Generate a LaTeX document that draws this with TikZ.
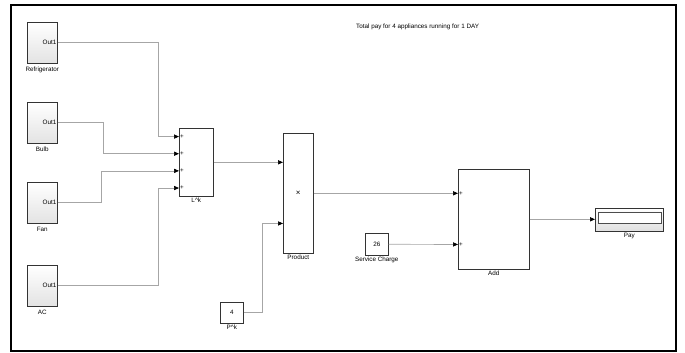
\documentclass[tikz,border=0pt]{standalone}
\usepackage{fontspec}
\setmainfont{Liberation Sans}
\usetikzlibrary{positioning,calc,arrows.meta,shadows}

\tikzset{
  lbl/.style={font=\fontsize{6.3}{7}\selectfont, inner sep=1pt},
  blk/.style={draw=black!80, fill=white, line width=0.6pt, inner sep=0pt, anchor=north west,
    drop shadow={shadow xshift=1pt, shadow yshift=-1pt, opacity=0.35}},
  subsys/.style={blk, top color=white, bottom color=gray!22, minimum width=30pt, minimum height=41pt},
  wire/.style={draw=gray!70, line width=0.7pt, -{Triangle[length=5pt, width=4.2pt, color=black]}},
  sgn/.style={lbl, anchor=west, inner sep=0.8pt},
}

\begin{document}
\begin{tikzpicture}[x=1pt, y=-1pt]
  \useasboundingbox (0,0) rectangle (685,353);

  % Marco
  \draw[line width=1.8pt] (11,5) rectangle (676,351);

  % Titulo
  \node[lbl, anchor=west] (title) at (355,27) {Total pay for 4 appliances running for 1 DAY};

  % Subsistemas
  \node[subsys, label={[lbl, anchor=east]east:Out1}, label={[lbl, label distance=2pt]below:Refrigerator}] (fridge) at (27,22) {};
  \node[subsys, label={[lbl, anchor=east]east:Out1}, label={[lbl, label distance=2pt]below:Bulb}] (bulb) at (27,102) {};
  \node[subsys, label={[lbl, anchor=east]east:Out1}, label={[lbl, label distance=2pt]below:Fan}] (fan) at (27,182) {};
  \node[subsys, label={[lbl, anchor=east]east:Out1}, label={[lbl, label distance=2pt]below:AC}] (ac) at (27,265) {};

  % Suma L^k
  \node[blk, minimum width=34pt, minimum height=68pt, label={[lbl]below:L\textasciicircum k}] (lk) at (179,128) {};
  \foreach \i in {1,...,4} {
    \coordinate (lk\i) at ($(lk.north west)!{(2*\i-1)/8}!(lk.south west)$);
    \node[sgn] (lksgn\i) at (lk\i) {+};
  }

  % Producto
  \node[blk, minimum width=30pt, minimum height=120pt, label={[lbl]below:Product}] (prod) at (283,133) {};
  \node[font=\fontsize{8}{9}\selectfont, inner sep=0pt] (prodsgn) at (prod.center) {×};
  \coordinate (prod2) at ($(prod.north west)!0.75!(prod.south west)$);

  % Constantes
  \node[blk, minimum width=23pt, minimum height=21pt, label={[lbl]below:P\textasciicircum k}, font=\fontsize{6.3}{7}\selectfont] (kp) at (220,302) {4};
  \node[blk, minimum width=23pt, minimum height=22pt, label={[lbl]below:Service Charge}, font=\fontsize{6.3}{7}\selectfont] (svc) at (365,233) {26};

  % Suma final
  \node[blk, minimum width=71pt, minimum height=100pt, label={[lbl]below:Add}] (add) at (458,169) {};
  \coordinate (add1) at ($(add.north west)!0.25!(add.south west)$);
  \coordinate (add2) at ($(add.north west)!0.75!(add.south west)$);
  \node[sgn] (addsgn1) at (add1) {+};
  \node[sgn] (addsgn2) at (add2) {+};

  % Display
  \node[blk, top color=white, bottom color=gray!25, minimum width=68pt, minimum height=23pt, label={[lbl]below:Pay}] (pay) at (595,208) {};
  \draw[draw=black!70, fill=white, line width=0.5pt] ($(pay.north west)+(3,4)$) rectangle ($(pay.south east)+(-2,-8)$);

  % Conexiones
  \draw[wire] (fridge.east) -- ++(101,0) |- (lk1);
  \draw[wire] (bulb.east) -- ++(46,0) |- (lk2);
  \draw[wire] (fan.east) -- ++(44,0) |- (lk3);
  \draw[wire] (ac.east) -- ++(101,0) |- (lk4);
  \draw[wire] (lk.east) -- (lk.east -| prod.west);
  \draw[wire] (kp.east) -- ++(19,0) |- (prod2);
  \draw[wire] (prod.east) -- (prod.east -| add.west);
  \draw[wire] (svc.east) -- (add2);
  \draw[wire] (add.east) -- (add.east -| pay.west);
\end{tikzpicture}
\end{document}
